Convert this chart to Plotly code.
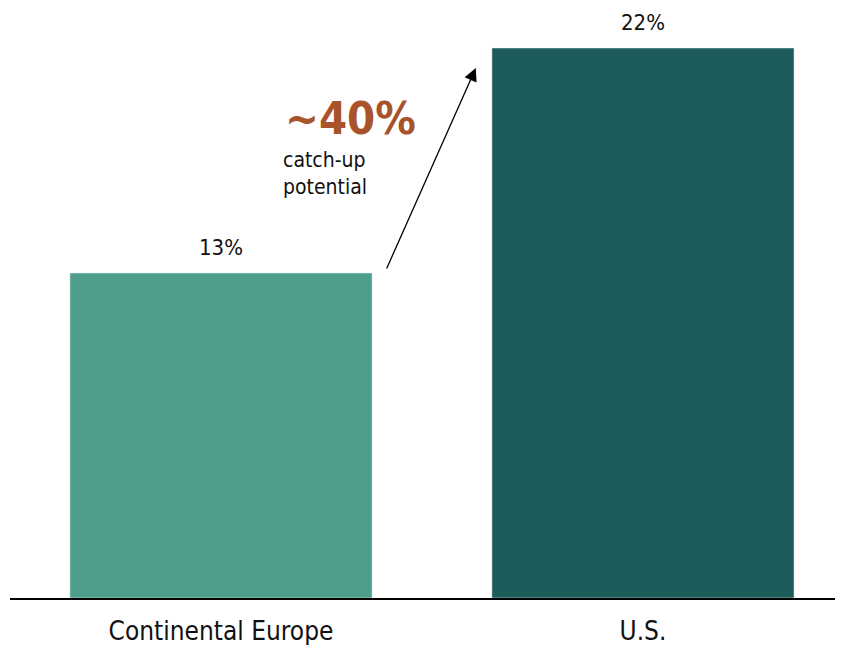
import plotly.graph_objects as go

categories = ["Continental Europe", "U.S."]
values = [13, 22]
labels = ["13%", "22%"]
colors = ["#4E9E8C", "#1E5C5B"]
headline = "~40%"
subtext = "catch-up<br>potential"

FONT = "DejaVu Sans Condensed, Liberation Sans Narrow, sans-serif"

fig = go.Figure()
fig.add_trace(go.Bar(
    x=[0, 1], y=values, marker_color=colors, width=0.716,
    hoverinfo="skip",
))

for i, (v, lab) in enumerate(zip(values, labels)):
    fig.add_annotation(x=i, y=v, xref="x", yref="y", text=lab, showarrow=False,
                       yanchor="middle", yshift=26,
                       font=dict(size=22, color="#111111", family=FONT))

fig.add_annotation(x=0.604, y=21.2, ax=0.391, ay=13.12, xref="x", yref="y",
                   axref="x", ayref="y", showarrow=True, arrowhead=2,
                   arrowsize=2.0, arrowwidth=1.3, arrowcolor="black", text="")
fig.add_annotation(x=0.147, y=19.2, xref="x", yref="y", text="<b>" + headline + "</b>",
                   showarrow=False, xanchor="left", yanchor="middle",
                   font=dict(size=45, color="#A9532A", family=FONT))
fig.add_annotation(x=0.143, y=17.0, xref="x", yref="y", text=subtext,
                   showarrow=False, xanchor="left", yanchor="middle", align="left",
                   font=dict(size=21, color="#111111", family=FONT))

fig.update_layout(
    width=835, height=637, margin=dict(l=2, r=0, t=12, b=47),
    plot_bgcolor="white", paper_bgcolor="white", showlegend=False,
    font=dict(family=FONT),
)
fig.update_xaxes(range=[-0.5, 1.474], tickvals=[0, 1], ticktext=categories,
                 showline=True, linecolor="black", linewidth=2, showgrid=False,
                 ticks="", ticklabelstandoff=9, automargin=False,
                 tickfont=dict(size=26, color="#111111", family=FONT), zeroline=False)
fig.update_yaxes(range=[0, 23.12], visible=False, showgrid=False, zeroline=False,
                 automargin=False)

fig.write_html("out.html")
